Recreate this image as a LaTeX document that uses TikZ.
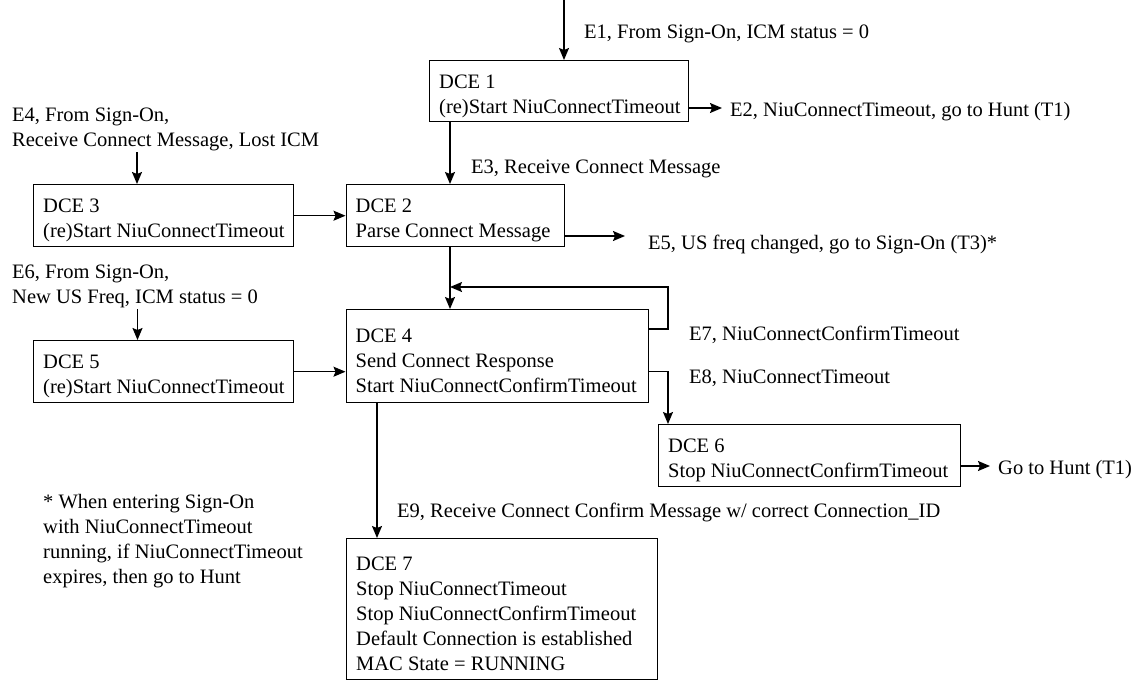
\documentclass[tikz,border=0pt]{standalone}
\usepackage{fontspec}
\setmainfont{Liberation Serif}
\usetikzlibrary{arrows.meta}
\tikzset{
  frame/.style={draw, line width=1.4pt, anchor=north west, inner sep=0pt, minimum width=#1},
  txt/.style={anchor=west, align=left, inner sep=0pt, font=\fontsize{20.5}{25}\selectfont},
  lbl/.style={anchor=west, align=left, inner sep=0pt, yshift=-2pt, font=\fontsize{20.5}{25}\selectfont},
  conn/.style={line width=1.4pt},
  arr/.style={line width=1.4pt, -{Stealth[length=12pt,width=10pt,inset=2pt]}}
}
\begin{document}
\begin{tikzpicture}[x=1pt,y=-1pt]
\useasboundingbox (0,0) rectangle (1143,680);
% boxes
\node[frame=259pt, minimum height=61pt] (dce1) at (429,60) {};
\node[frame=218pt, minimum height=62pt] (dce2) at (345.5,184) {};
\node[frame=260pt, minimum height=62pt] (dce3) at (33,184) {};
\node[frame=302pt, minimum height=93pt] (dce4) at (345.5,309) {};
\node[frame=260pt, minimum height=62pt] (dce5) at (33,340) {};
\node[frame=302pt, minimum height=62pt] (dce6) at (658,424) {};
\node[frame=311pt, minimum height=141pt] (dce7) at (346,538) {};
% box texts
\node[txt] (t1) at ([xshift=10pt,yshift=-5pt]dce1.west) {DCE 1\\(re)Start NiuConnectTimeout};
\node[txt] (t2) at ([xshift=10pt,yshift=-5pt]dce2.west) {DCE 2\\Parse Connect Message};
\node[txt] (t3) at ([xshift=10pt,yshift=-5pt]dce3.west) {DCE 3\\(re)Start NiuConnectTimeout};
\node[txt] (t4) at ([xshift=10pt,yshift=-5pt]dce4.west) {DCE 4\\Send Connect Response\\Start NiuConnectConfirmTimeout};
\node[txt] (t5) at ([xshift=10pt,yshift=-5pt]dce5.west) {DCE 5\\(re)Start NiuConnectTimeout};
\node[txt] (t6) at ([xshift=10pt,yshift=-5pt]dce6.west) {DCE 6\\Stop NiuConnectConfirmTimeout};
\node[txt] (t7) at ([xshift=10pt,yshift=-5pt]dce7.west) {DCE 7\\Stop NiuConnectTimeout\\Stop NiuConnectConfirmTimeout\\Default Connection is established\\MAC State = RUNNING};
% coordinates
\coordinate (e1s) at (564,0);
\coordinate (e2t) at (722,108);
\coordinate (c12) at (450,0);
\coordinate (e4s) at (137,152);
\coordinate (e5t) at (625,236);
\coordinate (loopx) at (668,287);
\coordinate (e7y) at (668,329);
\coordinate (e8y) at (668,371.5);
\coordinate (e6s) at (137.5,309);
\coordinate (c47) at (377,0);
\coordinate (hunt) at (990,466);
% connectors
\draw[arr] (e1s) -- (e1s |- dce1.north);
\draw[arr] (e2t -| dce1.east) -- (e2t);
\draw[arr] (c12 |- dce1.south) -- (c12 |- dce2.north);
\draw[arr] (e4s) -- (e4s |- dce3.north);
\draw[arr] (dce3.east) -- (dce2.west);
\draw[arr] (e5t -| dce2.east) -- (e5t);
\draw[arr] (c12 |- dce2.south) -- (c12 |- dce4.north);
\draw[arr] (e7y -| dce4.east) -- (e7y) -- (loopx) -- (loopx -| c12);
\draw[arr] (e8y -| dce4.east) -- (e8y) -- (e8y |- dce6.north);
\draw[arr] (e6s) -- (e6s |- dce5.north);
\draw[arr] (dce5.east) -- (dce5.east -| dce4.west);
\draw[arr] (c47 |- dce4.south) -- (c47 |- dce7.north);
\draw[arr] (hunt -| dce6.east) -- (hunt);
% labels
\node[lbl] (l1) at (584,32) {E1, From Sign-On, ICM status = 0};
\node[lbl] (l2) at (730,110) {E2, NiuConnectTimeout, go to Hunt (T1)};
\node[lbl] (l3) at (471,167) {E3, Receive Connect Message};
\node[lbl] (l4) at (12,127) {E4, From Sign-On,\\Receive Connect Message, Lost ICM};
\node[lbl] (l5) at (648,242) {E5, US freq changed, go to Sign-On (T3)*};
\node[lbl] (l6) at (12,284) {E6, From Sign-On,\\New US Freq, ICM status = 0};
\node[lbl] (l7) at (689,333) {E7, NiuConnectConfirmTimeout};
\node[lbl] (l8) at (689,376) {E8, NiuConnectTimeout};
\node[lbl] (l9) at (397,510) {E9, Receive Connect Confirm Message w/ correct Connection\_ID};
\node[lbl] (lh) at (998,468) {Go to Hunt (T1)};
\node[lbl] (fn) at (43,539) {* When entering Sign-On\\with NiuConnectTimeout\\running, if NiuConnectTimeout\\expires, then go to Hunt};
\end{tikzpicture}
\end{document}
